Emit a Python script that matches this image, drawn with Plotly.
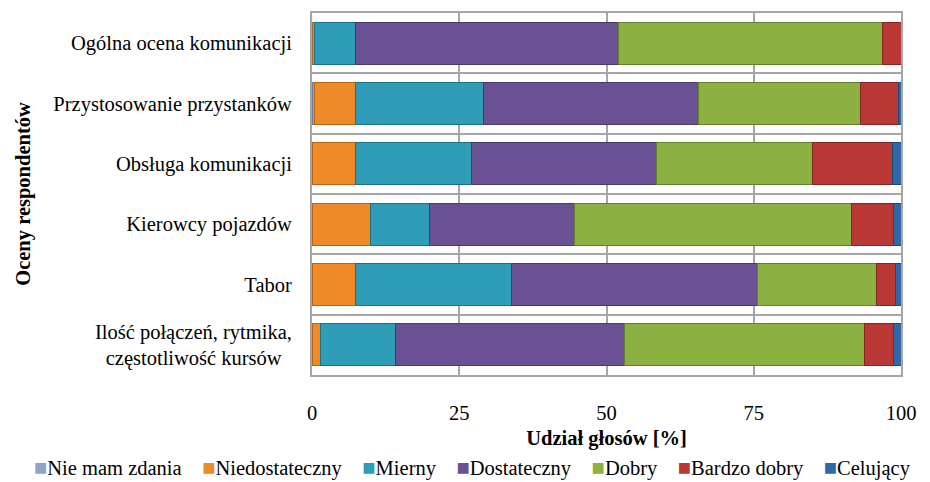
import plotly.graph_objects as go

# Rated aspects, listed top to bottom
categories = [
    "Ogólna ocena komunikacji",
    "Przystosowanie przystanków",
    "Obsługa komunikacji",
    "Kierowcy pojazdów",
    "Tabor",
    "Ilość połączeń, rytmika,<br>częstotliwość kursów\u00a0\u00a0",
]

# Share of votes [%] for each grade, in the same category order
nie_mam_zdania = [0.0, 0.5, 0.0, 0.0, 0.0, 0.0]
niedostateczny = [0.5, 6.9, 7.4, 10.0, 7.4, 1.5]
mierny = [6.9, 21.8, 19.6, 10.0, 26.4, 12.6]
dostateczny = [44.7, 36.5, 31.5, 24.5, 41.9, 38.9]
dobry = [44.7, 27.4, 26.5, 47.1, 20.1, 40.8]
bardzo_dobry = [3.2, 6.4, 13.5, 7.1, 3.2, 4.9]
celujacy = [0.0, 0.5, 1.5, 1.3, 1.0, 1.3]

series_names = ["Nie mam zdania", "Niedostateczny", "Mierny", "Dostateczny",
                "Dobry", "Bardzo dobry", "Celujący"]
series_values = [nie_mam_zdania, niedostateczny, mierny, dostateczny,
                 dobry, bardzo_dobry, celujacy]
fill_colors = ["#8FA3C8", "#EE8A28", "#2F9CB8", "#6A5193",
               "#8DB042", "#B93836", "#2F67A8"]
edge_colors = ["#6C7FA3", "#B8641A", "#1F6F85", "#4A3868",
               "#62802A", "#842624", "#1F4878"]

FONT = "Liberation Serif"
FS = 20.5
GRID = "#A6A6A6"

fig = go.Figure()
for name, vals, fc, ec in zip(series_names, series_values, fill_colors, edge_colors):
    fig.add_trace(go.Bar(
        y=categories, x=vals, name=name, orientation="h",
        marker=dict(color=fc, line=dict(color=ec, width=1)),
        showlegend=False,
    ))

# Legend line: a coloured square in front of each grade name
legend_text = "\u00a0\u00a0\u00a0\u00a0".join(
    f'<span style="color:{c};font-size:22px">■</span>{n}'
    for n, c in zip(series_names, fill_colors)
)
fig.add_annotation(
    text=legend_text, xref="paper", yref="paper",
    x=0.273, y=-0.255, xanchor="center", yanchor="middle",
    showarrow=False, font=dict(family=FONT, size=FS, color="black"),
)

fig.update_layout(
    width=930, height=482,
    margin=dict(l=312, r=29, t=13, b=107),
    barmode="stack", bargap=0.3,
    plot_bgcolor="white", paper_bgcolor="white",
    font=dict(family=FONT, size=FS, color="black"),
)
fig.update_xaxes(
    range=[0, 100], tickvals=[0, 25, 50, 75, 100],
    showgrid=True, gridcolor=GRID, gridwidth=2,
    showline=True, linecolor=GRID, linewidth=2, mirror=True,
    ticks="", ticklabelstandoff=18, zeroline=False,
    title=dict(text="<b>Udział głosów [%]</b>", standoff=8,
               font=dict(family=FONT, size=FS)),
)
fig.update_yaxes(
    autorange="reversed", tickson="boundaries",
    showgrid=True, gridcolor=GRID, gridwidth=2,
    showline=True, linecolor=GRID, linewidth=2, mirror=True,
    ticks="", ticklabelstandoff=14,
    title=dict(text="<b>Oceny respondentów</b>", standoff=17,
               font=dict(family=FONT, size=FS)),
)

fig.write_html("out.html")
